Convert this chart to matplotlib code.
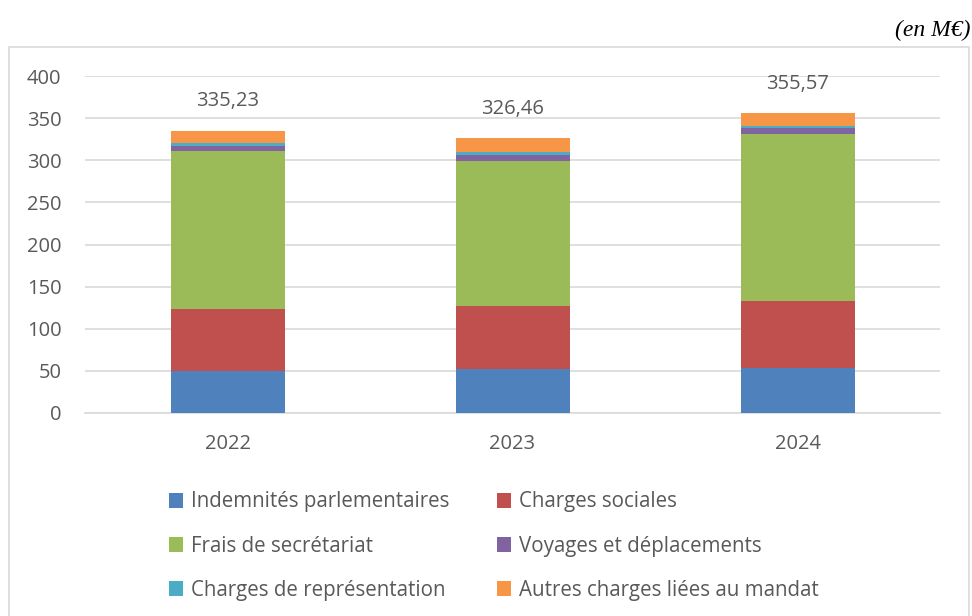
import matplotlib
matplotlib.use("Agg")
import matplotlib.pyplot as plt
import matplotlib.patches as mpatches
import numpy as np

plt.rcParams['font.family'] = ['Open Sans', 'DejaVu Sans']

years = ['2022', '2023', '2024']
totals = ['335,23', '326,46', '355,57']

series = [
    'Indemnités parlementaires',
    'Charges sociales',
    'Frais de secrétariat',
    'Voyages et déplacements',
    'Charges de représentation',
    'Autres charges liées au mandat',
]
indemnites = [50.2, 52.5, 54.0]
charges_sociales = [73.5, 74.5, 79.0]
secretariat = [187.5, 172.5, 198.5]
voyages = [5.8, 7.0, 6.5]
representation = [3.2, 3.5, 3.0]
autres = [15.03, 16.46, 14.57]

values = [indemnites, charges_sociales, secretariat, voyages, representation, autres]
colors = ['#4f81bd', '#c0504d', '#9bbb59', '#8064a2', '#4bacc6', '#f79646']
text_color = '#595959'

fig = plt.figure(figsize=(9.72, 6.16), dpi=100)

# outer frame of the chart
fig.patches.append(mpatches.Rectangle((9 / 972, -0.01), 960 / 972, 1 - 47 / 616 + 0.01,
                                      transform=fig.transFigure, fill=False,
                                      edgecolor='#d9d9d9', linewidth=1.2))

ax = fig.add_axes([85 / 972, 1 - 413 / 616, 855 / 972, 337 / 616])

x = np.arange(len(years))
bottom = np.zeros(len(years))
handles = []
for name, vals, c in zip(series, values, colors):
    b = ax.bar(x, vals, 0.4, bottom=bottom, color=c, label=name, zorder=3)
    handles.append(b)
    bottom += np.array(vals)

for xi, top, lab in zip(x, bottom, totals):
    ax.annotate(lab, (xi, top), xytext=(0, 14), textcoords='offset points',
                ha='center', va='bottom', fontsize=14.5, color=text_color)

ax.set_xlim(-0.5, 2.5)
ax.set_ylim(0, 400)
ax.set_yticks(range(0, 401, 50))
ax.set_xticks(x)
ax.set_xticklabels(years)
ax.grid(axis='y', color='#d9d9d9', linewidth=1.2, zorder=0)
for s in ['top', 'right', 'left']:
    ax.spines[s].set_visible(False)
ax.spines['bottom'].set_color('#d9d9d9')
ax.spines['bottom'].set_linewidth(1.2)
ax.tick_params(axis='both', length=0, labelsize=14.5, colors=text_color)
ax.tick_params(axis='y', pad=17)
ax.tick_params(axis='x', pad=15)

order = [0, 2, 4, 1, 3, 5]
fig.legend([handles[i] for i in order], [series[i] for i in order],
           loc='upper left', bbox_to_anchor=(150 / 972, 1 - 473 / 616),
           ncol=2, frameon=False, fontsize=14.8, labelcolor=text_color,
           handlelength=0.7, handleheight=0.7, handletextpad=0.4,
           columnspacing=2.3, labelspacing=1.12)

fig.text(970 / 972, 1 - 30 / 616, '(en M€)', ha='right', va='center',
         fontsize=17, style='italic', family='Liberation Serif', color='black')

fig.savefig('out.png', dpi=100)
